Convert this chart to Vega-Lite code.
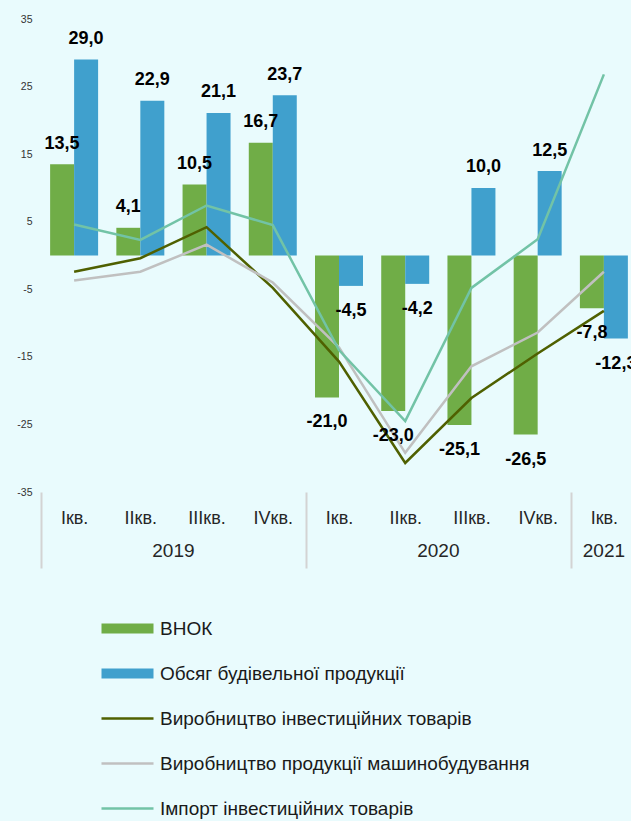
{
  "$schema": "https://vega.github.io/schema/vega-lite/v6.json",
  "width": 590,
  "height": 473,
  "autosize": {"type": "none"},
  "padding": {"left": 41, "top": 19, "right": 0, "bottom": 329},
  "background": "#E9FBFD",
  "config": {
    "view": {"stroke": null},
    "font": "Liberation Sans",
    "locale": {"number": {"decimal": ",", "thousands": " ", "grouping": [3], "currency": ["", ""], "minus": "-"}}
  },
  "datasets": {
    "bars": [
      {"key": "Ікв.|2019", "series": "ВНОК", "value": 13.5},
      {"key": "Ікв.|2019", "series": "Обсяг будівельної продукції", "value": 29.0},
      {"key": "IIкв.|2019", "series": "ВНОК", "value": 4.1},
      {"key": "IIкв.|2019", "series": "Обсяг будівельної продукції", "value": 22.9},
      {"key": "IIIкв.|2019", "series": "ВНОК", "value": 10.5},
      {"key": "IIIкв.|2019", "series": "Обсяг будівельної продукції", "value": 21.1},
      {"key": "IVкв.|2019", "series": "ВНОК", "value": 16.7},
      {"key": "IVкв.|2019", "series": "Обсяг будівельної продукції", "value": 23.7},
      {"key": "Ікв.|2020", "series": "ВНОК", "value": -21.0},
      {"key": "Ікв.|2020", "series": "Обсяг будівельної продукції", "value": -4.5},
      {"key": "IIкв.|2020", "series": "ВНОК", "value": -23.0},
      {"key": "IIкв.|2020", "series": "Обсяг будівельної продукції", "value": -4.2},
      {"key": "IIIкв.|2020", "series": "ВНОК", "value": -25.1},
      {"key": "IIIкв.|2020", "series": "Обсяг будівельної продукції", "value": 10.0},
      {"key": "IVкв.|2020", "series": "ВНОК", "value": -26.5},
      {"key": "IVкв.|2020", "series": "Обсяг будівельної продукції", "value": 12.5},
      {"key": "Ікв.|2021", "series": "ВНОК", "value": -7.8},
      {"key": "Ікв.|2021", "series": "Обсяг будівельної продукції", "value": -12.3}
    ],
    "lines": [
      {"key": "Ікв.|2019", "series": "Виробництво інвестиційних товарів", "value": -2.4},
      {"key": "IIкв.|2019", "series": "Виробництво інвестиційних товарів", "value": -0.4},
      {"key": "IIIкв.|2019", "series": "Виробництво інвестиційних товарів", "value": 4.2},
      {"key": "IVкв.|2019", "series": "Виробництво інвестиційних товарів", "value": -4.8},
      {"key": "Ікв.|2020", "series": "Виробництво інвестиційних товарів", "value": -15.7},
      {"key": "IIкв.|2020", "series": "Виробництво інвестиційних товарів", "value": -30.7},
      {"key": "IIIкв.|2020", "series": "Виробництво інвестиційних товарів", "value": -21.1},
      {"key": "IVкв.|2020", "series": "Виробництво інвестиційних товарів", "value": -14.5},
      {"key": "Ікв.|2021", "series": "Виробництво інвестиційних товарів", "value": -8.2},
      {"key": "Ікв.|2019", "series": "Виробництво продукції машинобудування", "value": -3.7},
      {"key": "IIкв.|2019", "series": "Виробництво продукції машинобудування", "value": -2.4},
      {"key": "IIIкв.|2019", "series": "Виробництво продукції машинобудування", "value": 1.6},
      {"key": "IVкв.|2019", "series": "Виробництво продукції машинобудування", "value": -4.0},
      {"key": "Ікв.|2020", "series": "Виробництво продукції машинобудування", "value": -13.6},
      {"key": "IIкв.|2020", "series": "Виробництво продукції машинобудування", "value": -29.2},
      {"key": "IIIкв.|2020", "series": "Виробництво продукції машинобудування", "value": -16.4},
      {"key": "IVкв.|2020", "series": "Виробництво продукції машинобудування", "value": -11.4},
      {"key": "Ікв.|2021", "series": "Виробництво продукції машинобудування", "value": -2.4},
      {"key": "Ікв.|2019", "series": "Імпорт інвестиційних товарів", "value": 4.6},
      {"key": "IIкв.|2019", "series": "Імпорт інвестиційних товарів", "value": 2.3},
      {"key": "IIIкв.|2019", "series": "Імпорт інвестиційних товарів", "value": 7.4},
      {"key": "IVкв.|2019", "series": "Імпорт інвестиційних товарів", "value": 4.5},
      {"key": "Ікв.|2020", "series": "Імпорт інвестиційних товарів", "value": -14.0},
      {"key": "IIкв.|2020", "series": "Імпорт інвестиційних товарів", "value": -24.5},
      {"key": "IIIкв.|2020", "series": "Імпорт інвестиційних товарів", "value": -4.8},
      {"key": "IVкв.|2020", "series": "Імпорт інвестиційних товарів", "value": 2.4},
      {"key": "Ікв.|2021", "series": "Імпорт інвестиційних товарів", "value": 26.8}
    ],
    "years": [
      {"year": "2019", "at": "IIкв.|2019", "span": "multi"},
      {"year": "2020", "at": "IIкв.|2020", "span": "multi"},
      {"year": "2021", "at": "Ікв.|2021", "span": "single"}
    ]
  },
  "layer": [
    {
      "data": {"name": "bars"},
      "mark": {"type": "bar"},
      "encoding": {
        "x": {
          "field": "key", "type": "nominal", "title": null,
          "scale": {"domain": ["Ікв.|2019", "IIкв.|2019", "IIIкв.|2019", "IVкв.|2019", "Ікв.|2020", "IIкв.|2020", "IIIкв.|2020", "IVкв.|2020", "Ікв.|2021"], "range": [0, 596], "paddingInner": 0, "paddingOuter": 0},
          "axis": {
            "title": null, "domain": false, "grid": false, "ticks": true, "tickBand": "extent", "tickSize": 76, "tickWidth": 2,
            "tickColor": {"condition": {"test": "!isValid(datum.value) || indexof(['IVкв.|2019','IVкв.|2020'], datum.value) >= 0", "value": "#D3D3D3"}, "value": "transparent"},
            "labelExpr": "isValid(datum.value) ? split(datum.value, '|')[0] : ''", "labelFontSize": 18, "labelColor": "#262626", "labelPadding": -58.5, "labelAngle": 0, "labelFont": "Liberation Sans"
          }
        },
        "xOffset": {"field": "series", "type": "nominal", "scale": {"domain": ["ВНОК", "Обсяг будівельної продукції"], "paddingOuter": 0.38, "paddingInner": 0}},
        "y": {
          "field": "value", "type": "quantitative", "title": null,
          "scale": {"domain": [-35, 35], "nice": false, "zero": false},
          "axis": {"values": [-35, -25, -15, -5, 5, 15, 25, 35], "grid": false, "domain": false, "ticks": false, "labelPadding": 9, "labelFontSize": 10.5, "labelColor": "#333333", "labelFont": "Liberation Sans", "title": null}
        },
        "color": {
          "field": "series", "type": "nominal",
          "scale": {"domain": ["ВНОК", "Обсяг будівельної продукції", "Виробництво інвестиційних товарів", "Виробництво продукції машинобудування", "Імпорт інвестиційних товарів"], "range": ["#70AD47", "#40A0CD", "#4F6000", "#C0C0C0", "#72C3A6"]},
          "legend": {
            "title": null, "orient": "none", "legendX": 56, "legendY": 600, "direction": "vertical", "padding": 0,
            "symbolSize": 100, "labelFontSize": 19, "labelFont": "Liberation Sans", "labelColor": "#1A1A1A", "labelOffset": 44, "labelLimit": 0, "rowPadding": 25,
            "encode": {
              "symbols": {
                "update": {
                  "shape": {"signal": "indexof(['ВНОК','Обсяг будівельної продукції'], datum.value) >= 0 ? 'M-1,-1H9.4V1H-1Z' : 'M-1,-0.25H9.4V0.25H-1Z'"},
                  "fill": {"scale": "color", "field": "value"},
                  "fillOpacity": {"value": 1},
                  "strokeWidth": {"value": 0},
                  "opacity": {"value": 1}
                }
              }
            }
          }
        }
      }
    },
    {
      "mark": {"type": "rule", "color": "#D0D0D0", "strokeWidth": 2},
      "encoding": {"y": {"datum": 0, "type": "quantitative"}}
    },
    {
      "data": {"name": "lines"},
      "mark": {"type": "line", "strokeWidth": 2.5},
      "encoding": {
        "x": {"field": "key", "type": "nominal"},
        "y": {"field": "value", "type": "quantitative"},
        "color": {"field": "series", "type": "nominal"}
      }
    },
    {
      "data": {"name": "bars"},
      "transform": [{"filter": "datum.value >= 0"}],
      "mark": {"type": "text", "fontSize": 18, "fontWeight": "bold", "color": "#000000", "baseline": "alphabetic", "dy": -15.5, "font": "Liberation Sans"},
      "encoding": {
        "x": {"field": "key", "type": "nominal"},
        "xOffset": {"field": "series", "type": "nominal"},
        "y": {"field": "value", "type": "quantitative"},
        "text": {"field": "value", "type": "quantitative", "format": ".1f"}
      }
    },
    {
      "data": {"name": "bars"},
      "transform": [{"filter": "datum.value < 0"}],
      "mark": {"type": "text", "fontSize": 18, "fontWeight": "bold", "color": "#000000", "baseline": "alphabetic", "dy": 30, "font": "Liberation Sans"},
      "encoding": {
        "x": {"field": "key", "type": "nominal"},
        "xOffset": {"field": "series", "type": "nominal"},
        "y": {"field": "value", "type": "quantitative"},
        "text": {"field": "value", "type": "quantitative", "format": ".1f"}
      }
    },
    {
      "data": {"name": "years"},
      "transform": [{"filter": "datum.span == 'multi'"}],
      "mark": {"type": "text", "fontSize": 19, "color": "#262626", "baseline": "middle", "font": "Liberation Sans"},
      "encoding": {
        "x": {"field": "at", "type": "nominal", "bandPosition": 1},
        "y": {"datum": -43.7, "type": "quantitative"},
        "text": {"field": "year", "type": "nominal"}
      }
    },
    {
      "data": {"name": "years"},
      "transform": [{"filter": "datum.span == 'single'"}],
      "mark": {"type": "text", "fontSize": 19, "color": "#262626", "baseline": "middle", "font": "Liberation Sans"},
      "encoding": {
        "x": {"field": "at", "type": "nominal", "bandPosition": 0.5},
        "y": {"datum": -43.7, "type": "quantitative"},
        "text": {"field": "year", "type": "nominal"}
      }
    }
  ]
}
